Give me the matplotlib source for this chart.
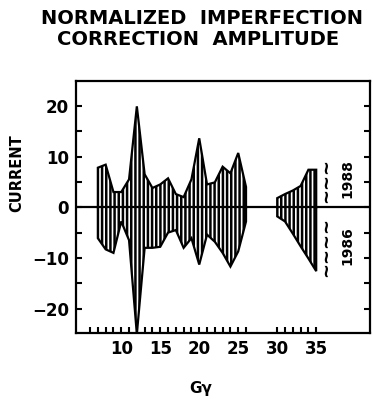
import matplotlib
matplotlib.use("Agg")
import matplotlib.pyplot as plt

# G*gamma positions and measured currents, two scans
gg_a = [7, 8, 9, 10, 11, 12, 13, 14, 15, 16, 17, 18, 19, 20, 21, 22, 23, 24, 25, 26]
amp88_a = [7.8, 8.4, 3.0, 3.0, 5.5, 19.9, 6.5, 3.8, 4.5, 5.7, 2.6, 2.0, 5.5, 13.6,
           4.5, 4.9, 8.0, 6.7, 10.7, 4.0]
amp86_a = [-6.1, -8.3, -9.0, -2.8, -6.5, -25.0, -8.0, -8.0, -7.8, -5.0, -4.5, -8.0,
           -6.1, -11.3, -5.4, -6.8, -9.0, -11.7, -8.7, -2.8]

gg_b = [30, 31, 32, 33, 34, 35]
amp88_b = [1.8, 2.6, 3.3, 4.2, 7.4, 7.4]
amp86_b = [-1.8, -2.8, -5.2, -7.7, -10.1, -12.6]

xticks_minor = list(range(6, 27)) + list(range(30, 36))
xticks_major = [10, 15, 20, 25, 30, 35]
yticks_major = [-20, -10, 0, 10, 20]
yticks_minor = [-20, -15, -10, -5, 0, 5, 10, 15, 20]

plt.rcParams['font.family'] = 'DejaVu Sans'
plt.rcParams['hatch.linewidth'] = 1.8

fig = plt.figure(figsize=(3.73, 4.0), dpi=100)
ax = fig.add_axes([0.2038, 0.1675, 0.7882, 0.63])

for x, up, lo in ((gg_a, amp88_a, amp86_a), (gg_b, amp88_b, amp86_b)):
    for v in (up, lo):
        ax.fill_between(x, 0, v, facecolor='none', edgecolor='black',
                        hatch='||||', linewidth=0)
        ax.plot([x[0]] + x + [x[-1]], [0] + v + [0], color='black', lw=1.6,
                solid_joinstyle='miter')

ax.axhline(0, color='black', lw=1.6)

ax.set_xlim(4.2, 41.9)
ax.set_ylim(-24.8, 24.9)

ax.set_xticks(xticks_major)
ax.set_xticks(xticks_minor, minor=True)
ax.set_yticks(yticks_major)
ax.set_yticks(yticks_minor, minor=True)
ax.tick_params(axis='both', which='both', direction='in', length=4, width=1.5)
ax.tick_params(axis='y', which='both', right=True)
ax.tick_params(axis='x', which='major', pad=5)
ax.tick_params(axis='y', which='major', pad=5)
for lab in ax.get_xticklabels() + ax.get_yticklabels():
    lab.set_fontsize(12)
    lab.set_fontweight('bold')

for sp in ax.spines.values():
    sp.set_linewidth(1.6)

# scan labels with wavy braces
ax.text(39.0, 5.6, "1988", rotation=90, ha='center', va='center',
        fontsize=10, fontweight='bold')
ax.text(39.0, -7.6, "1986", rotation=90, ha='center', va='center',
        fontsize=10, fontweight='bold')
ax.text(36.2, 5.2, "~~~", rotation=90, ha='center', va='center',
        fontsize=13, fontweight='bold')
ax.text(36.2, -7.8, "~~~~", rotation=90, ha='center', va='center',
        fontsize=13, fontweight='bold')

fig.text(0.541, 0.954, "NORMALIZED  IMPERFECTION", ha='center', va='center',
         fontsize=14, fontweight='bold')
fig.text(0.531, 0.901, "CORRECTION  AMPLITUDE", ha='center', va='center',
         fontsize=14, fontweight='bold')
fig.text(0.046, 0.5675, "CURRENT", rotation=90, ha='center', va='center',
         fontsize=10.5, fontweight='bold')
fig.text(0.539, 0.03, "G\u03b3", ha='center', va='center',
         fontsize=11, fontweight='bold')

fig.savefig("out.png", dpi=100)
